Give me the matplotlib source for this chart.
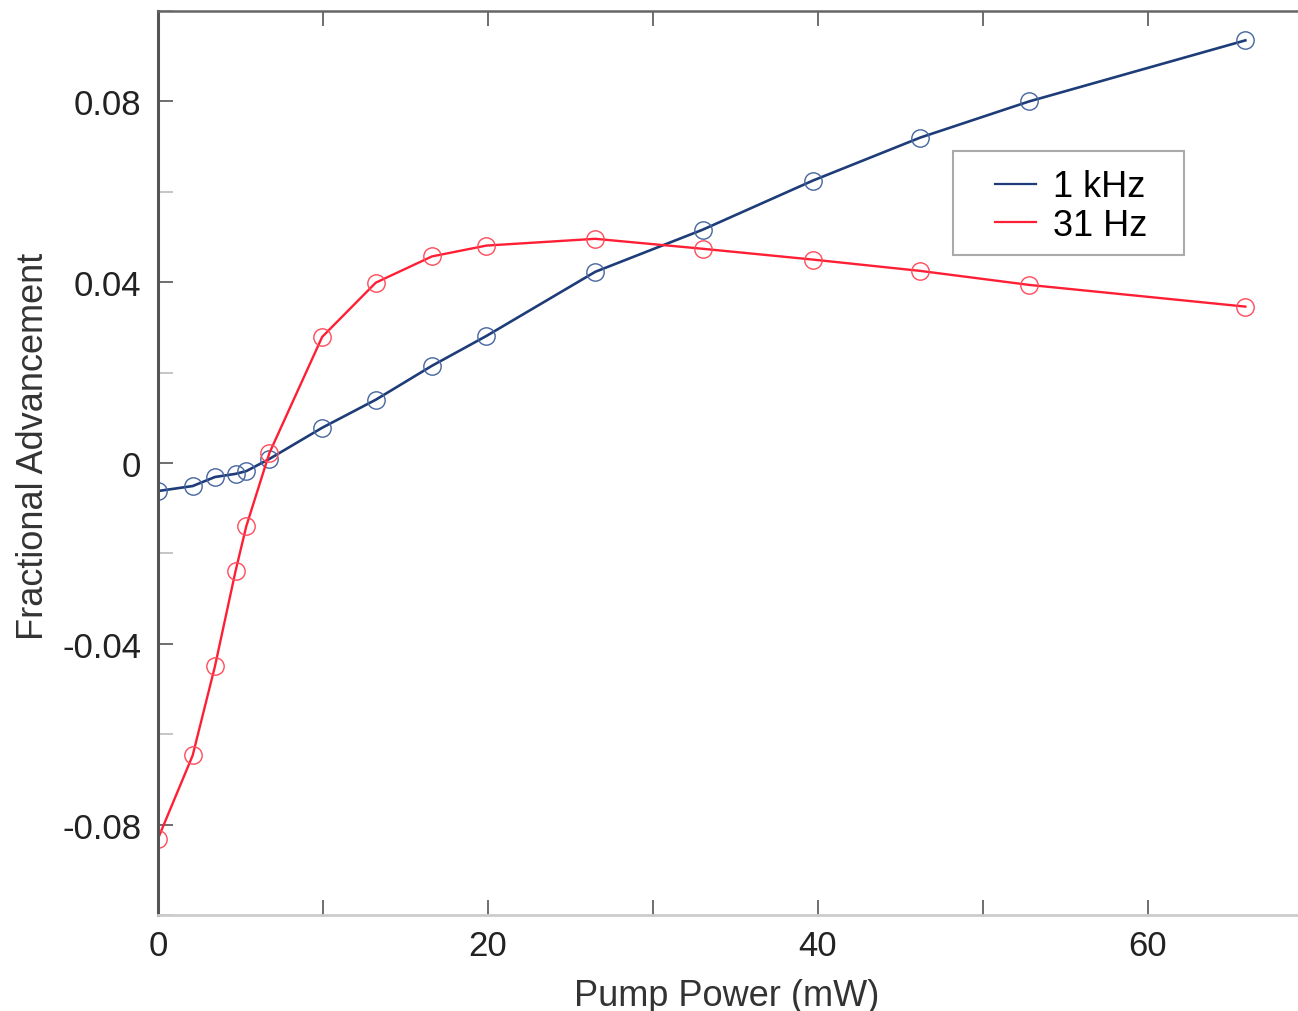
import numpy as np
import matplotlib as mpl
mpl.use('Agg')
import matplotlib.pyplot as plt
from matplotlib.ticker import MultipleLocator
from matplotlib.patches import Rectangle

# data
pump_power = [0.0, 2.1, 3.45, 4.7, 5.35, 6.75, 9.95, 13.2, 16.6, 19.9,
              26.5, 33.0, 39.7, 46.2, 52.8, 65.9]
adv_1khz = [-0.0062, -0.0051, -0.0031, -0.0024, -0.0018, 0.0009, 0.0078,
            0.0140, 0.0215, 0.0281, 0.0423, 0.0516, 0.0625, 0.0720,
            0.0800, 0.0935]
adv_31hz = [-0.0831, -0.0647, -0.0450, -0.0239, -0.0140, 0.0022, 0.0279,
            0.0399, 0.0457, 0.0481, 0.0496, 0.0474, 0.0450, 0.0425,
            0.0394, 0.0346]

series_labels = ['1 kHz', '31 Hz']

ftsize = 25
plt.rc('font', family=['Liberation Sans', 'DejaVu Sans'], size=ftsize)

fig = plt.figure(figsize=(12.98, 10.12), dpi=100)
ax = fig.add_axes([158/1298, 96/1012, 1155/1298, 904/1012])

blue = '#1d3c78'
red = '#ff1f35'

ax.plot(pump_power, adv_1khz, '-', color=blue, lw=1.9,
        marker='o', ms=12.5, mfc='none', mec='#4565a0', mew=1.0,
        label=series_labels[0])
ax.plot(pump_power, adv_31hz, '-', color=red, lw=1.7,
        marker='o', ms=12.5, mfc='none', mec='#ff4a5a', mew=1.0,
        label=series_labels[1])

ax.set_xlim(0, 70)
ax.set_ylim(-0.1, 0.1)

ax.xaxis.set_major_locator(MultipleLocator(20))
ax.xaxis.set_minor_locator(MultipleLocator(10))
ax.yaxis.set_minor_locator(MultipleLocator(0.02))
ax.set_yticks([-0.08, -0.04, 0, 0.04, 0.08])
ax.set_yticklabels(['-0.08', '-0.04', '0', '0.04', '0.08'])

ax.tick_params(axis='x', which='both', direction='in', top=True,
               length=11, width=1.2, color='#555555', pad=10)
ax.tick_params(axis='y', which='major', direction='in', right=False,
               length=11, width=1.2, color='#555555', pad=12)
ax.tick_params(axis='y', which='minor', direction='in', right=False,
               length=11, width=1.2, color='#bbbbbb')
for lab in ax.get_xticklabels() + ax.get_yticklabels():
    lab.set_color('#222222')

ax.spines['right'].set_visible(False)
ax.spines['left'].set_color('#555555')
ax.spines['left'].set_linewidth(2.2)
ax.spines['top'].set_color('#666666')
ax.spines['top'].set_linewidth(1.8)
ax.spines['bottom'].set_color('#cccccc')
ax.spines['bottom'].set_linewidth(2.0)

ax.set_xlabel('Pump Power (mW)', color='#333333', fontsize=26, labelpad=11.5)
ax.set_ylabel('Fractional Advancement', color='#333333', fontsize=26,
              labelpad=8)
ax.xaxis.label.set_x(0.4926)
ax.yaxis.label.set_y(0.519)

# legend box drawn separately to get the wide padding of the original
ax.add_patch(Rectangle((0.6885, 0.7305), 0.2, 0.1145, transform=ax.transAxes,
                       facecolor='white', edgecolor='#aaaaaa', lw=1.5,
                       zorder=4))
leg = ax.legend(loc='upper left', bbox_to_anchor=(0.7105, 0.843),
                frameon=False, fontsize=26, handlelength=1.15,
                handletextpad=0.45, borderpad=0.45, labelspacing=0.1,
                borderaxespad=0)
leg.set_zorder(5)
for h in leg.get_lines():
    h.set_marker('')
    h.set_linewidth(1.6)

fig.savefig('out.png', dpi=100)
